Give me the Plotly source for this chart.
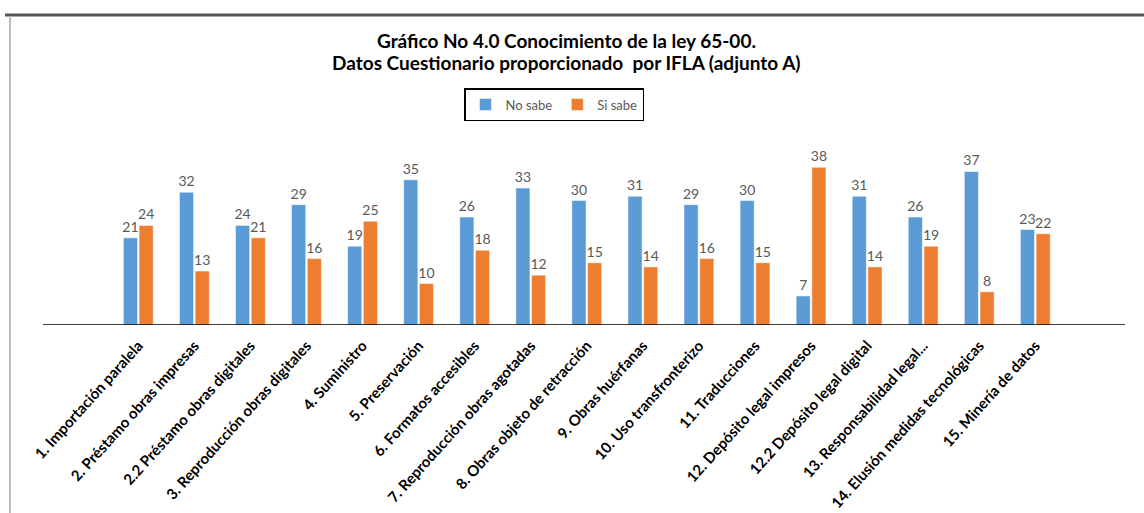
import plotly.graph_objects as go

categories = [
    "1. Importación paralela",
    "2. Préstamo obras impresas",
    "2.2 Préstamo obras digitales",
    "3. Reproducción obras digitales",
    "4. Suministro",
    "5. Preservación",
    "6. Formatos accesibles",
    "7. Reproducción obras agotadas",
    "8. Obras objeto de retracción",
    "9. Obras huérfanas",
    "10. Uso transfronterizo",
    "11. Traducciones",
    "12. Depósito legal impresos",
    "12.2 Depósito legal digital",
    "13. Responsabilidad legal...",
    "14. Elusión medidas tecnológicas",
    "15. Minería de datos",
]
no_sabe = [21, 32, 24, 29, 19, 35, 26, 33, 30, 31, 29, 30, 7, 31, 26, 37, 23]
si_sabe = [24, 13, 21, 16, 25, 10, 18, 12, 15, 14, 16, 15, 38, 14, 19, 8, 22]

FONT = "Lato"
W, H = 1144, 513
L, R, T, B = 43, 19, 159, 188
pw, ph = W - L - R, H - T - B

fig = go.Figure()
fig.add_trace(go.Bar(
    name="No sabe", x=categories, y=no_sabe, marker_color="#5B9BD5",
    marker_line=dict(color="white", width=0.5),
    text=no_sabe, textposition="outside", cliponaxis=False, constraintext="none",
    textfont=dict(color="#595959", size=14, family=FONT),
))
fig.add_trace(go.Bar(
    name="Si sabe", x=categories, y=si_sabe, marker_color="#ED7D31",
    marker_line=dict(color="white", width=0.5),
    text=si_sabe, textposition="outside", cliponaxis=False, constraintext="none",
    textfont=dict(color="#595959", size=14, family=FONT),
))

def px_x(p):
    return (p - L) / pw

def px_y(p):
    return (H - B - p) / ph

fig.update_layout(
    width=W, height=H,
    margin=dict(l=L, r=R, t=T, b=B, autoexpand=False),
    paper_bgcolor="white", plot_bgcolor="white",
    barmode="group", bargap=0.44, bargroupgap=0.1,
    font=dict(family=FONT),
    showlegend=True,
    legend=dict(
        orientation="h", x=px_x(554), y=px_y(88), xanchor="center", yanchor="top",
        bordercolor="black", borderwidth=1.5, bgcolor="white",
        font=dict(size=13, color="#595959", family=FONT),
        itemwidth=30, traceorder="normal",
    ),
    xaxis=dict(
        range=[-1.7, 17.6], showgrid=False, showline=False, zeroline=False,
        tickangle=-48, ticks="", ticklabelstandoff=8, automargin=False,
        tickfont=dict(size=15, color="black", family=FONT, weight="bold"),
    ),
    yaxis=dict(range=[0, 40], visible=False, showgrid=False, automargin=False),
)

# title
fig.add_annotation(
    text="<b>Gráfico No 4.0 Conocimiento de la ley 65-00.</b>",
    xref="paper", yref="paper", x=px_x(566), y=px_y(40), xanchor="center", yanchor="middle",
    showarrow=False, font=dict(size=19, color="black", family=FONT),
)
fig.add_annotation(
    text="<b>Datos Cuestionario proporcionado  por IFLA (adjunto A)</b>",
    xref="paper", yref="paper", x=px_x(566), y=px_y(63), xanchor="center", yanchor="middle",
    showarrow=False, font=dict(size=19, color="black", family=FONT),
)

# axis baseline
fig.add_shape(type="line", xref="paper", yref="y", x0=0, x1=1, y0=0, y1=0,
              line=dict(color="black", width=1.5))
# frame lines (top and left)
fig.add_shape(type="line", xref="paper", yref="paper", x0=px_x(5), x1=px_x(1144),
              y0=px_y(15), y1=px_y(15), line=dict(color="#555555", width=3))
fig.add_shape(type="line", xref="paper", yref="paper", x0=px_x(10), x1=px_x(10),
              y0=px_y(16), y1=px_y(513), line=dict(color="#BBBBBB", width=2))

fig.write_html("out.html", config={"displayModeBar": False},
               post_script="document.body.style.margin='0';document.body.style.overflow='hidden';")
